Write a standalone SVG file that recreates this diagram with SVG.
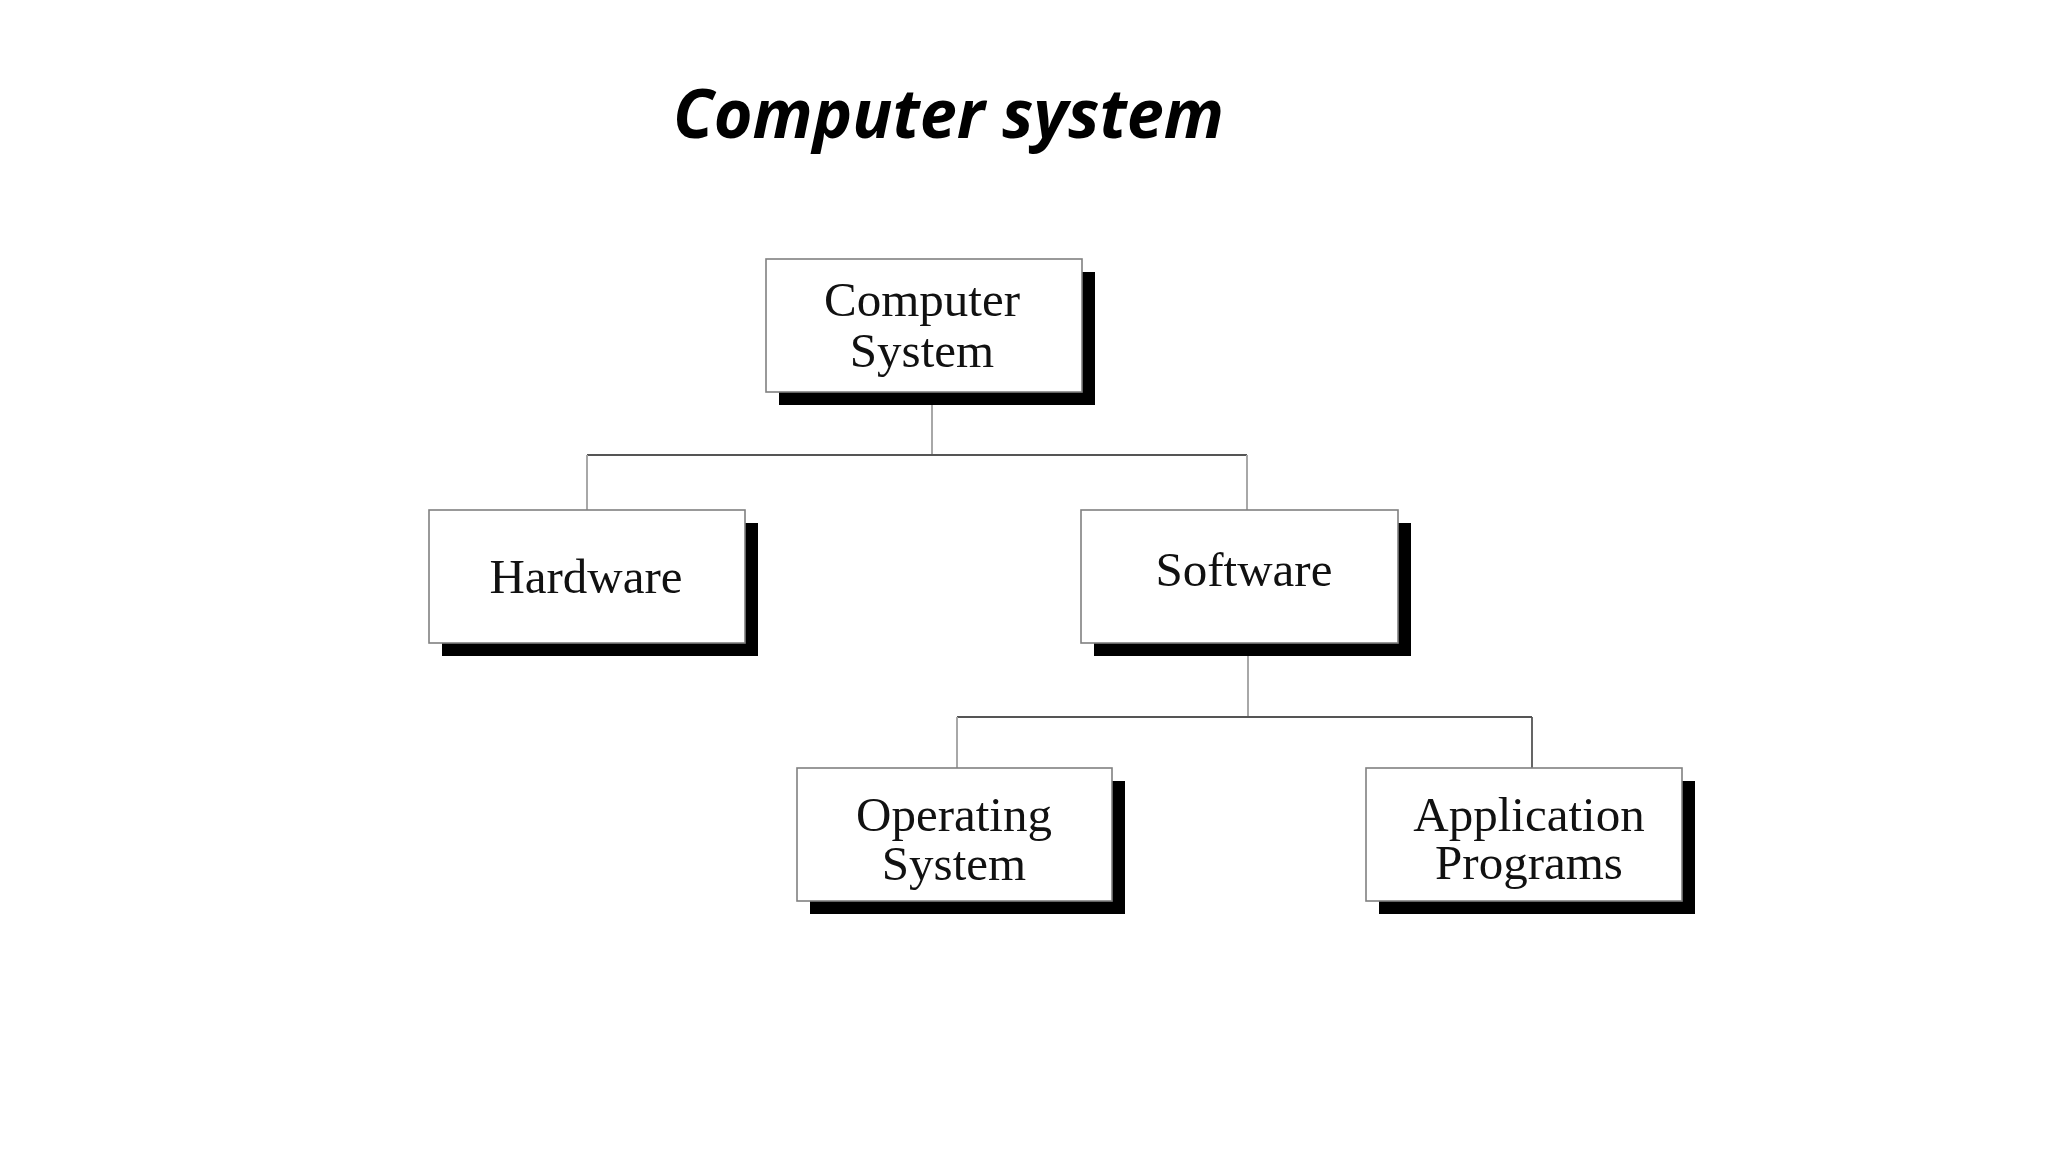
<svg xmlns="http://www.w3.org/2000/svg" width="2048" height="1152" viewBox="0 0 2048 1152">
<style>
.shadow{fill:#000}
.box{fill:#fff;stroke:#808080;stroke-width:1.6}
.lbl{font-family:"Liberation Serif","Times New Roman",serif;font-size:49px;fill:#111;text-anchor:middle}
.h{stroke:#555;stroke-width:1.8;fill:none}
.v{stroke:#a8a8a8;stroke-width:2;fill:none}
</style>
<rect width="2048" height="1152" fill="#fff"/>
<text x="673" y="138" font-family="'Open Sans','Noto Sans',sans-serif" font-size="68" font-weight="bold" font-style="italic" fill="#000" textLength="551" lengthAdjust="spacingAndGlyphs">Computer system</text>

<g id="connectors">
  <line class="v" x1="932" y1="405" x2="932" y2="455"/>
  <line class="h" x1="587" y1="455" x2="1247" y2="455"/>
  <line class="v" x1="587" y1="455" x2="587" y2="510"/>
  <line class="v" x1="1247" y1="455" x2="1247" y2="510"/>
  <line class="v" x1="1248" y1="656" x2="1248" y2="717"/>
  <line class="h" x1="957" y1="717" x2="1532" y2="717"/>
  <line class="v" x1="957" y1="717" x2="957" y2="768"/>
  <line class="h" x1="1532" y1="717" x2="1532" y2="768"/>
</g>

<g id="computer-system">
  <rect class="shadow" x="779" y="272" width="316" height="133"/>
  <rect class="box" x="766" y="259" width="316" height="133"/>
  <text class="lbl" x="922" y="316">Computer</text>
  <text class="lbl" x="922" y="367">System</text>
</g>

<g id="hardware">
  <rect class="shadow" x="442" y="523" width="316" height="133"/>
  <rect class="box" x="429" y="510" width="316" height="133"/>
  <text class="lbl" x="586" y="593">Hardware</text>
</g>

<g id="software">
  <rect class="shadow" x="1094" y="523" width="317" height="133"/>
  <rect class="box" x="1081" y="510" width="317" height="133"/>
  <text class="lbl" x="1244" y="586">Software</text>
</g>

<g id="operating-system">
  <rect class="shadow" x="810" y="781" width="315" height="133"/>
  <rect class="box" x="797" y="768" width="315" height="133"/>
  <text class="lbl" x="954" y="831">Operating</text>
  <text class="lbl" x="954" y="880">System</text>
</g>

<g id="application-programs">
  <rect class="shadow" x="1379" y="781" width="316" height="133"/>
  <rect class="box" x="1366" y="768" width="316" height="133"/>
  <text class="lbl" x="1529" y="831">Application</text>
  <text class="lbl" x="1529" y="879">Programs</text>
</g>
</svg>
